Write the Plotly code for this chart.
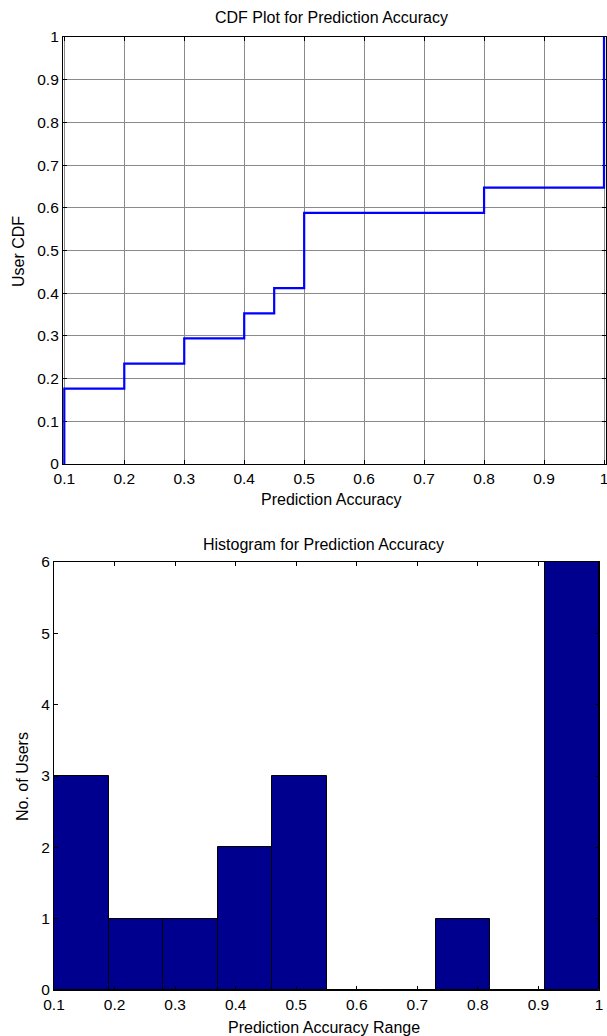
import numpy as np
import plotly.graph_objects as go

# ---- data ----
accuracy_values = [0.1, 0.1, 0.1, 0.2, 0.3, 0.4, 0.45, 0.5, 0.5, 0.5,
                   0.8, 1.0, 1.0, 1.0, 1.0, 1.0, 1.0]
hist_counts = [3, 1, 1, 2, 3, 0, 0, 1, 0, 6]
hist_edges = [0.1, 0.19, 0.28, 0.37, 0.46, 0.55, 0.64, 0.73, 0.82, 0.91, 1.0]
x_ticks = [0.1, 0.2, 0.3, 0.4, 0.5, 0.6, 0.7, 0.8, 0.9, 1.0]
x_ticklabels = ["0.1", "0.2", "0.3", "0.4", "0.5", "0.6", "0.7", "0.8", "0.9", "1"]
cdf_yticks = [0, 0.1, 0.2, 0.3, 0.4, 0.5, 0.6, 0.7, 0.8, 0.9, 1.0]
cdf_yticklabels = ["0", "0.1", "0.2", "0.3", "0.4", "0.5", "0.6", "0.7", "0.8", "0.9", "1"]
hist_yticks = [0, 1, 2, 3, 4, 5, 6]

# empirical CDF steps from the values
vals = np.sort(np.array(accuracy_values))
uniq = np.unique(vals)
cdf = np.array([np.sum(vals <= u) for u in uniq]) / len(vals)
cdf_x = [uniq[0]] + list(uniq)
cdf_y = [0.0] + list(cdf)

centers = [(hist_edges[i] + hist_edges[i + 1]) / 2 for i in range(len(hist_counts))]
widths = [hist_edges[i + 1] - hist_edges[i] for i in range(len(hist_counts))]

W, H = 607, 1036
FONT = "Liberation Sans, Arial, sans-serif"
TICK_SIZE = 15.5
LABEL_SIZE = 16

fig = go.Figure()
fig.add_trace(go.Scatter(x=cdf_x, y=cdf_y, mode="lines", line_shape="hv",
                         line=dict(color="#0000FF", width=2.2),
                         xaxis="x", yaxis="y", showlegend=False))
fig.add_trace(go.Bar(x=centers, y=hist_counts, width=widths,
                     marker=dict(color="#00008F", line=dict(color="black", width=1)),
                     xaxis="x2", yaxis="y2", showlegend=False))

def px_x(px):
    return px / W

def px_y(py):
    return 1 - py / H

axis_common = dict(showline=True, linecolor="black", linewidth=1.2, mirror="allticks",
                   ticks="inside", ticklen=4, tickcolor="black", zeroline=False,
                   automargin=False, ticklabeloverflow="allow",
                   tickfont=dict(family=FONT, size=TICK_SIZE, color="black"))

# top plot: 0.1 -> 64.3 px, 1.0 -> 604 px
top_l, top_r = 63, 606
ppu = (604 - 64.3) / 0.9
top_range = [0.1 - (64.3 - top_l) / ppu, 1.0 + (top_r - 604) / ppu]

fig.update_layout(
    template="none",
    width=W, height=H, margin=dict(l=0, r=0, t=0, b=0, autoexpand=False),
    paper_bgcolor="white", plot_bgcolor="white", bargap=0,
    font=dict(family=FONT, size=LABEL_SIZE, color="black"),
    xaxis=dict(domain=[px_x(top_l), px_x(top_r)], range=top_range, anchor="y",
               tickvals=x_ticks, ticktext=x_ticklabels, showgrid=True,
               gridcolor="#8a8a8a", gridwidth=1, layer="below traces", **axis_common),
    yaxis=dict(domain=[px_y(464), px_y(37)], range=[0, 1], anchor="x",
               tickvals=cdf_yticks, ticktext=cdf_yticklabels, showgrid=True,
               gridcolor="#8a8a8a", gridwidth=1, layer="below traces", **axis_common),
    xaxis2=dict(domain=[px_x(54), px_x(599)], range=[0.1, 1.0], anchor="y2",
                tickvals=x_ticks, ticktext=x_ticklabels, showgrid=False, **axis_common),
    yaxis2=dict(domain=[px_y(990), px_y(562)], range=[0, 6], anchor="x2",
                tickvals=hist_yticks, showgrid=False, **axis_common),
)

def ann(text, x, y, angle=0):
    fig.add_annotation(text=text, x=px_x(x), y=px_y(y), xref="paper", yref="paper",
                       showarrow=False, textangle=angle, xanchor="center", yanchor="middle",
                       font=dict(family=FONT, size=LABEL_SIZE, color="black"))

ann("CDF Plot for Prediction Accuracy", 331.5, 18)
ann("Prediction Accuracy", 331.5, 499)
ann("User CDF", 19, 252, -90)
ann("Histogram for Prediction Accuracy", 323, 544)
ann("Prediction Accuracy Range", 323.5, 1027)
ann("No. of Users", 22, 777, -90)

fig.write_html("out.html",
               config={"displayModeBar": False},
               post_script="document.body.style.margin='0';"
                           "document.body.style.overflow='hidden';")
